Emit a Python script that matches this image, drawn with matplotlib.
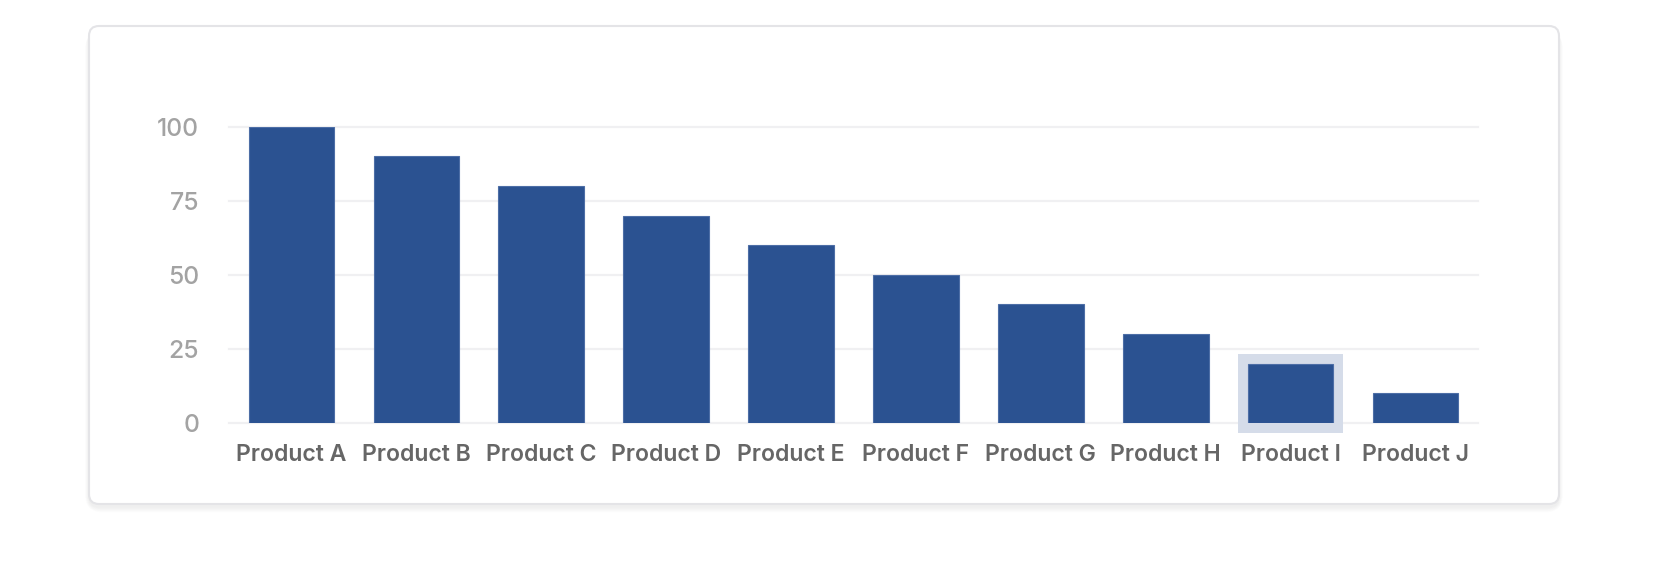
import matplotlib
matplotlib.use("Agg")
import matplotlib.pyplot as plt
from matplotlib.patches import FancyBboxPatch, Rectangle
from matplotlib.transforms import IdentityTransform

categories = ["Product A", "Product B", "Product C", "Product D", "Product E",
              "Product F", "Product G", "Product H", "Product I", "Product J"]
values = [100, 90, 80, 70, 60, 50, 40, 30, 20, 10]
yticks = [0, 25, 50, 75, 100]
highlight_index = 8

W, H, DPI = 1662, 572, 100
plt.rcParams['font.family'] = ['Inter', 'DejaVu Sans']

fig = plt.figure(figsize=(W / DPI, H / DPI), dpi=DPI)
fig.patch.set_facecolor('white')

# card (pixel coords, origin bottom-left)
cx0, cx1 = 89, 1559
cy_top, cy_bot = 26, 504
card_x, card_y = cx0, H - cy_bot
card_w, card_h = cx1 - cx0, cy_bot - cy_top

for i in range(8):
    g = 8 - i
    sh = FancyBboxPatch((card_x - g * 0.5, card_y - 3 - g * 0.7), card_w + g * 1.0, card_h + g * 0.4,
                        boxstyle="round,pad=0,rounding_size=%d" % (10 + g),
                        transform=IdentityTransform(), facecolor='black', edgecolor='none',
                        alpha=0.009, zorder=0)
    fig.patches.append(sh)

card = FancyBboxPatch((card_x, card_y), card_w, card_h,
                      boxstyle="round,pad=0,rounding_size=10",
                      transform=IdentityTransform(), facecolor='white',
                      edgecolor='#e4e4e7', linewidth=1.5, zorder=1)
fig.patches.append(card)

# axes
ax_l, ax_r = 229, 1478
ax_top, ax_bot = 126.7, 422.7
ax = fig.add_axes([ax_l / W, (H - ax_bot) / H, (ax_r - ax_l) / W, (ax_bot - ax_top) / H])
ax.set_facecolor('none')
ax.set_zorder(2)

n = len(categories)
x = list(range(n))
bar_w = 0.685
ax.set_xlim(-0.5, n - 0.5)
ax.set_ylim(0, 100)

# highlight background behind Product I
px_x = (ax_r - ax_l) / n
px_y = (ax_bot - ax_top) / 100
padx, pady = 10 / px_x, 10 / px_y
hl = Rectangle((highlight_index - bar_w / 2 - padx, -pady), bar_w + 2 * padx,
               values[highlight_index] + 2 * pady, facecolor='#d5dce9', edgecolor='none',
               zorder=1, clip_on=False)
ax.add_patch(hl)

ax.bar(x, values, width=bar_w, color='#2b5291', edgecolor='#4d6ea6', linewidth=0.8, zorder=3)

ax.set_yticks(yticks)
ax.set_yticklabels([str(v) for v in yticks])
ax.set_xticks(x)
ax.set_xticklabels(categories)

ax.grid(axis='y', color='#f0f0f2', linewidth=1.6, zorder=0)
for gl in ax.get_ygridlines():
    gl.set_clip_on(False)
ax.set_axisbelow(True)
for s in ax.spines.values():
    s.set_visible(False)

ax.tick_params(axis='y', length=0, pad=21.5, labelsize=17.8, labelcolor='#a3a3a3')
ax.tick_params(axis='x', length=0, pad=15.5, labelsize=16.6, labelcolor='#666666')
for lab in ax.get_xticklabels():
    lab.set_fontweight('semibold')
for lab in ax.get_yticklabels():
    lab.set_fontweight('medium')

fig.savefig('out.png', dpi=DPI, facecolor='white')
